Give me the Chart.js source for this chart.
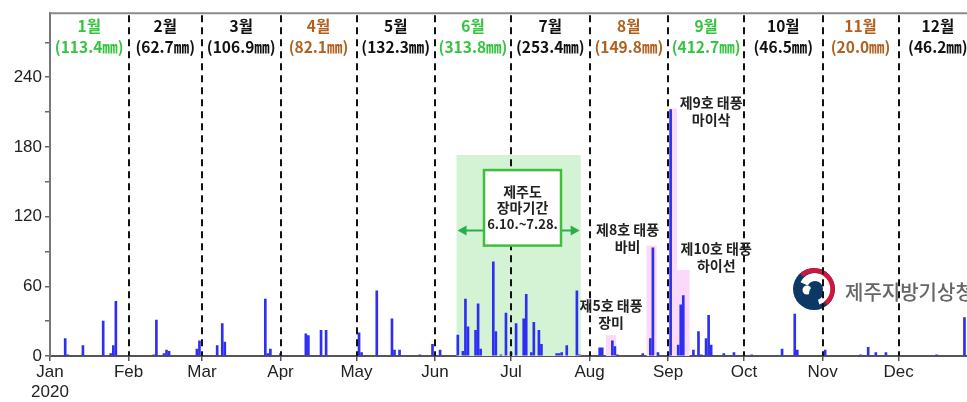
<!DOCTYPE html>
<html lang="ko">
<head>
    <meta charset="UTF-8">
    <title>제주 2020 일강수량</title>
    <style>
        * { margin: 0; padding: 0; box-sizing: border-box; }
        body { background: #fff; width: 967px; height: 402px; overflow: hidden; }
        #chart-container { position: relative; width: 967px; height: 402px; }
    </style>
</head>
<body>
    <div id="chart-container">
        <canvas id="rainChart"></canvas>
    </div>

    <script src="https://cdn.jsdelivr.net/npm/chart.js"></script>
    <script>
        // daily rainfall (mm), 2020
        const rainDates = [
            '01-07', '01-08', '01-14', '01-22', '01-25', '01-26', '01-27',
            '02-11', '02-12', '02-15', '02-16', '02-17', '02-28', '02-29',
            '03-07', '03-09', '03-10', '03-26', '03-27', '03-28',
            '04-01', '04-11', '04-12', '04-17', '04-19',
            '05-02', '05-03', '05-09', '05-15', '05-16', '05-18', '05-26', '05-31',
            '06-03', '06-10', '06-12', '06-13', '06-14', '06-17', '06-18', '06-19', '06-24', '06-25', '06-27', '06-29',
            '07-01', '07-03', '07-06', '07-07', '07-09', '07-10', '07-12', '07-13', '07-19', '07-20', '07-21', '07-23', '07-27', '07-28',
            '08-05', '08-06', '08-10', '08-11', '08-12', '08-22', '08-25', '08-26', '08-28',
            '09-02', '09-05', '09-06', '09-07', '09-11', '09-13', '09-14', '09-16', '09-17', '09-18', '09-23', '09-27',
            '10-04', '10-16', '10-21', '10-22',
            '11-02', '11-16', '11-19', '11-22', '11-26',
            '12-16', '12-27'
        ];
        const rainMm = [
            15, 1, 9, 30, 2, 9, 47,
            1, 31, 2, 5, 4, 6, 13,
            9, 28, 12, 49, 2, 6,
            2, 19, 17.5, 22, 22,
            20, 3, 56, 32, 5, 5, 1, 10,
            5, 18, 4, 49, 25, 22, 45, 6, 81, 21, 1, 37,
            3, 28, 32, 53, 3, 29, 22, 10, 2, 2, 3, 9, 56, 1,
            7, 7, 13, 8, 1, 2, 15, 93, 3,
            212, 9.5, 44, 52, 5, 21, 1, 15, 35, 9.5, 2, 3,
            1, 6, 36, 5,
            5, 1, 7.5, 3, 3,
            1, 33
        ];

        const monthTicks = ['Jan', 'Feb', 'Mar', 'Apr', 'May', 'Jun', 'Jul', 'Aug', 'Sep', 'Oct', 'Nov', 'Dec'];
        const monthNames = ['1월', '2월', '3월', '4월', '5월', '6월', '7월', '8월', '9월', '10월', '11월', '12월'];
        const monthTotals = ['113.4', '62.7', '106.9', '82.1', '132.3', '313.8', '253.4', '149.8', '412.7', '46.5', '20.0', '46.2'];
        const monthColors = ['#35c43f', '#111', '#111', '#b0601f', '#111', '#35c43f', '#111', '#b0601f', '#35c43f', '#111', '#b0601f', '#111'];

        // monsoon period and typhoon periods (shaded)
        const monsoonFrom = '06-10';
        const monsoonTo = '07-28';
        const monsoonTop = 173;
        const typhoonNames = ['제5호 태풍|장미', '제8호 태풍|바비', '제9호 태풍|마이삭', '제10호 태풍|하이선'];
        const typhoonFrom = ['08-08', '08-24', '09-02', '09-05'];
        const typhoonTo = ['08-11', '08-27', '09-04', '09-09'];
        const typhoonTop = [18, 95, 213, 74];

        const yTicks = [0, 30, 60, 90, 120, 150, 180, 210, 240, 270];

        function dayOf(mmdd) {
            const [m, d] = mmdd.split('-').map(Number);
            return (Date.UTC(2020, m - 1, d) - Date.UTC(2020, 0, 1)) / 86400000;
        }
        const monthStarts = monthTicks.map((_, i) => (Date.UTC(2020, i, 1) - Date.UTC(2020, 0, 1)) / 86400000);
        const yearEnd = 366;

        const KR = "'Noto Sans CJK KR', sans-serif";

        // label anchors for the typhoon notes (x in days, y in mm)
        const typhoonLabelAt = [[221.5, 43], [228, 109], [261, 218], [263, 92]];

        function arrow(ctx, x0, x1, y) {
            const dir = Math.sign(x1 - x0);
            ctx.beginPath();
            ctx.moveTo(x0, y);
            ctx.lineTo(x1 - dir * 6, y);
            ctx.stroke();
            ctx.beginPath();
            ctx.moveTo(x1, y);
            ctx.lineTo(x1 - dir * 9, y - 5);
            ctx.lineTo(x1 - dir * 9, y + 5);
            ctx.closePath();
            ctx.fill();
        }

        const overlay = {
            id: 'overlay',
            beforeDatasetsDraw(chart) {
                const { ctx, chartArea: a, scales: { x, y } } = chart;
                ctx.save();
                ctx.beginPath();
                ctx.rect(a.left, a.top, a.right - a.left, a.bottom - a.top);
                ctx.clip();

                // monsoon shading
                ctx.fillStyle = '#d4f3d4';
                const m0 = x.getPixelForValue(dayOf(monsoonFrom) - 0.5);
                const m1 = x.getPixelForValue(dayOf(monsoonTo) + 0.5);
                ctx.fillRect(m0, y.getPixelForValue(monsoonTop), m1 - m0, y.getPixelForValue(0) - y.getPixelForValue(monsoonTop));

                // typhoon shading
                ctx.fillStyle = '#fbd9fb';
                typhoonFrom.forEach((f, i) => {
                    const p0 = x.getPixelForValue(dayOf(f) - 0.5);
                    const p1 = x.getPixelForValue(dayOf(typhoonTo[i]) + 0.5);
                    const top = y.getPixelForValue(typhoonTop[i]);
                    ctx.fillRect(p0, top, p1 - p0, y.getPixelForValue(0) - top);
                });

                // KMA logo
                const cx = 814, cy = 289;
                ctx.fillStyle = '#0c3866';
                ctx.beginPath();
                ctx.arc(cx, cy, 21, 0, Math.PI * 2);
                ctx.fill();
                ctx.strokeStyle = '#ffffff';
                ctx.lineWidth = 8;
                ctx.beginPath();
                ctx.arc(cx + 1, cy, 12, -2.7, 1.3);
                ctx.stroke();
                ctx.strokeStyle = '#d3153d';
                ctx.lineWidth = 4.5;
                ctx.beginPath();
                ctx.arc(cx, cy, 18.5, -2.3, 0.9);
                ctx.stroke();
                ctx.fillStyle = '#ffffff';
                ctx.beginPath();
                ctx.arc(cx - 7, cy + 1, 4.5, 0, Math.PI * 2);
                ctx.fill();
                ctx.fillStyle = '#0c3866';
                ctx.beginPath();
                ctx.arc(cx + 2, cy + 4, 7, 0, Math.PI * 2);
                ctx.fill();

                ctx.fillStyle = '#666';
                ctx.font = '500 20px ' + KR;
                ctx.textBaseline = 'middle';
                ctx.textAlign = 'left';
                ctx.fillText('제주지방기상청', 845, 292);
                ctx.restore();
            },
            afterDatasetsDraw(chart) {
                const { ctx, chartArea: a, scales: { x, y } } = chart;
                ctx.save();

                // top frame
                ctx.strokeStyle = '#8a8a8a';
                ctx.lineWidth = 2;
                ctx.beginPath();
                ctx.moveTo(a.left, a.top);
                ctx.lineTo(a.right, a.top);
                ctx.stroke();

                // month dividers
                ctx.strokeStyle = '#111';
                ctx.lineWidth = 2;
                ctx.setLineDash([7, 5]);
                monthStarts.slice(1).forEach(d => {
                    const px = Math.round(x.getPixelForValue(d));
                    ctx.beginPath();
                    ctx.moveTo(px, a.top + 2);
                    ctx.lineTo(px, a.bottom);
                    ctx.stroke();
                });
                ctx.setLineDash([]);

                // month titles with totals
                ctx.textAlign = 'center';
                ctx.textBaseline = 'middle';
                ctx.font = 'bold 15.5px ' + KR;
                monthNames.forEach((name, i) => {
                    const end = i < 11 ? monthStarts[i + 1] : yearEnd;
                    const px = x.getPixelForValue((monthStarts[i] + end) / 2);
                    ctx.fillStyle = monthColors[i];
                    ctx.fillText(name, px, 26);
                    ctx.fillText('(' + monthTotals[i] + '㎜)', px, 47);
                });

                // monsoon box with arrows
                const m0 = x.getPixelForValue(dayOf(monsoonFrom) - 0.5);
                const m1 = x.getPixelForValue(dayOf(monsoonTo) + 0.5);
                const bx0 = 484, bx1 = 561;
                const by0 = y.getPixelForValue(160), by1 = y.getPixelForValue(95);
                ctx.fillStyle = '#fff';
                ctx.fillRect(bx0, by0, bx1 - bx0, by1 - by0);
                ctx.strokeStyle = '#3cbf3c';
                ctx.lineWidth = 2.5;
                ctx.strokeRect(bx0, by0, bx1 - bx0, by1 - by0);
                ctx.strokeStyle = '#2aae4a';
                ctx.fillStyle = '#2aae4a';
                ctx.lineWidth = 2;
                const ay = y.getPixelForValue(108);
                arrow(ctx, bx0 - 1, m0 + 1, ay);
                arrow(ctx, bx1 + 1, m1 - 1, ay);
                ctx.fillStyle = '#222';
                ctx.font = 'bold 14px ' + KR;
                const bc = (bx0 + bx1) / 2;
                ctx.fillText('제주도', bc, by0 + 22);
                ctx.fillText('장마기간', bc, by0 + 38);
                ctx.font = 'bold 13px ' + KR;
                ctx.fillText('6.10.~7.28.', bc, by0 + 54);

                // typhoon notes
                ctx.font = 'bold 14px ' + KR;
                ctx.fillStyle = '#222';
                typhoonNames.forEach((t, i) => {
                    const [l1, l2] = t.split('|');
                    const px = x.getPixelForValue(typhoonLabelAt[i][0]);
                    const py = y.getPixelForValue(typhoonLabelAt[i][1]);
                    ctx.fillText(l1, px, py);
                    ctx.fillText(l2, px, py + 17);
                });
                ctx.restore();
            }
        };

        const ctx = document.getElementById('rainChart').getContext('2d');
        new Chart(ctx, {
            type: 'bar',
            data: {
                datasets: [{
                    label: '일강수량',
                    data: rainDates.map((d, i) => ({ x: dayOf(d), y: rainMm[i] })),
                    backgroundColor: '#2f2ff2',
                    barThickness: 2,
                    grouped: false
                }]
            },
            options: {
                responsive: true,
                maintainAspectRatio: false,
                animation: false,
                layout: { padding: { top: 11, right: 0, left: 0, bottom: 0 } },
                plugins: { legend: { display: false }, tooltip: { enabled: false } },
                scales: {
                    x: {
                        type: 'linear',
                        offset: false,
                        min: 0,
                        max: 362,
                        afterFit: s => { s.height = 46; },
                        afterBuildTicks: s => { s.ticks = monthStarts.map(v => ({ value: v })); },
                        grid: { drawOnChartArea: false, offset: false, tickLength: 5, color: '#555', lineWidth: 1.5 },
                        border: { color: '#555', width: 2 },
                        ticks: {
                            autoSkip: false,
                            maxRotation: 0,
                            padding: 1,
                            color: '#222',
                            font: { family: "'Liberation Sans', Arial, sans-serif", size: 17 },
                            callback: (v, i) => i === 0 ? ['Jan', '2020'] : monthTicks[i]
                        }
                    },
                    y: {
                        min: 0,
                        max: 295,
                        afterFit: s => { s.width = 50; },
                        afterBuildTicks: s => { s.ticks = yTicks.map(v => ({ value: v })); },
                        grid: { drawOnChartArea: false, tickLength: 5, color: '#666', lineWidth: 1.5 },
                        border: { color: '#777', width: 2 },
                        ticks: {
                            padding: 3,
                            color: '#222',
                            font: { family: "'Liberation Sans', Arial, sans-serif", size: 17 },
                            callback: v => v % 60 === 0 ? v : ''
                        }
                    }
                }
            },
            plugins: [overlay]
        });
    </script>
</body>
</html>
